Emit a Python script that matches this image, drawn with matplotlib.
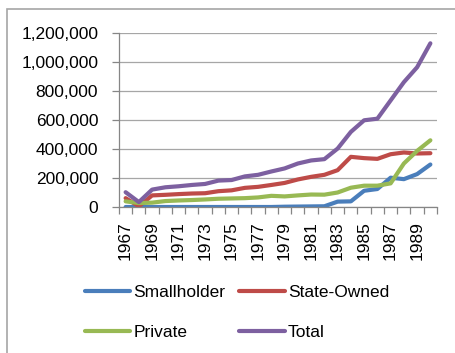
import numpy as np
import matplotlib.pyplot as plt
from matplotlib.patches import Rectangle

plt.rcParams['font.family'] = ['Liberation Sans', 'DejaVu Sans']

# ── Data (area by ownership, 1967–1990) ─────────────────────────────────────
years = list(range(1967, 1991))
smallholder = [0, 0, 0, 0, 0, 0, 0, 0, 0, 0, 0, 0, 2000, 3000, 4000, 5000,
               37000, 39000, 112000, 124000, 202000, 192000, 227000, 293000]
state_owned = [61000, 5000, 80000, 84000, 89000, 93000, 95000, 109000, 115000,
               132000, 139000, 152000, 166000, 190000, 208000, 222000,
               254000, 346000, 337000, 332000, 364000, 376000, 369000, 371000]
private = [39000, 27000, 30000, 41000, 45000, 48000, 52000, 57000, 59000,
           61000, 66000, 77000, 73000, 80000, 86000, 85000,
           100000, 133000, 147000, 147000, 163000, 300000, 387000, 460000]
total = [102000, 34000, 120000, 136000, 143000, 152000, 159000, 182000, 186000,
         211000, 222000, 245000, 266000, 300000, 321000, 330000,
         403000, 518000, 598000, 609000, 735000, 861000, 964000, 1129000]

series = [('Smallholder', smallholder, '#4a7ebb'),
          ('State-Owned', state_owned, '#be4b48'),
          ('Private', private, '#98b954'),
          ('Total', total, '#7d60a0')]

W, H = 456, 353
fig = plt.figure(figsize=(W / 100, H / 100), dpi=100)

# chart frame
fig.patches.append(Rectangle((7.5 / W, -0.1), 1.2, 1 - 9 / H + 0.1,
                             transform=fig.transFigure, fill=False,
                             edgecolor='#a6a6a6', lw=1.2))

ax = fig.add_axes([119 / W, 1 - 207 / H, (437 - 119) / W, (207 - 33) / H])

x = np.arange(len(years))
lines = {}
for name, vals, col in series:
    lines[name], = ax.plot(x, vals, color=col, lw=3, label=name,
                           solid_capstyle='round', solid_joinstyle='round')

ax.set_xlim(-0.5, len(years) - 0.5)
ax.set_ylim(0, 1200000)
ax.set_yticks(np.arange(0, 1200001, 200000))
ax.set_yticklabels([f'{v:,}' for v in range(0, 1200001, 200000)])
ax.grid(axis='y', color='#a6a6a6', lw=0.9)
ax.set_axisbelow(True)

# category labels every other year, ticks between categories
ax.set_xticks(x[::2])
ax.set_xticklabels([str(y) for y in years[::2]], rotation=90)
ax.set_xticks(np.arange(-0.5, len(years)), minor=True)
ax.tick_params(axis='x', which='major', length=0, pad=10)
ax.tick_params(axis='x', which='minor', length=5, color='#868686', width=0.9)
ax.tick_params(axis='y', length=5, color='#868686', width=0.9, pad=10)
ax.tick_params(labelsize=12.5, labelcolor='black')

for side in ['top', 'right']:
    ax.spines[side].set_visible(False)
for side in ['left', 'bottom']:
    ax.spines[side].set_color('#868686')
    ax.spines[side].set_linewidth(0.9)

# legend fills column-wise, so order handles to read row by row
order = ['Smallholder', 'Private', 'State-Owned', 'Total']
fig.legend([lines[n] for n in order], order, loc='center',
           bbox_to_anchor=(0.52, 0.114), ncol=2, frameon=False,
           fontsize=12.5, handlelength=2.6, handletextpad=0.2,
           columnspacing=0.8, labelspacing=1.45)

fig.savefig('out.png', dpi=100)
